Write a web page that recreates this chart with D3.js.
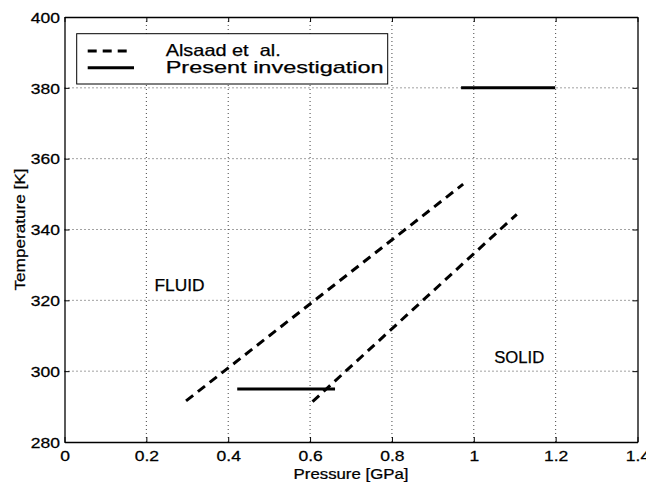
<!DOCTYPE html>
<html>
<head>
<meta charset="utf-8">
<script src="https://cdn.jsdelivr.net/npm/d3@7"></script>
<style>
  html, body { margin: 0; padding: 0; background: #fff; }
  svg { display: block; }
  text { font-family: "Liberation Sans", Arial, Helvetica, sans-serif; fill: #000; stroke: #000; stroke-width: 0.25px; }
</style>
</head>
<body>
<svg id="chart" width="646" height="483"></svg>
<script>
// ---- data ----
const xTicks = [0, 0.2, 0.4, 0.6, 0.8, 1.0, 1.2, 1.4];
const xTickLabels = ["0", "0.2", "0.4", "0.6", "0.8", "1", "1.2", "1.4"];
const yTicks = [280, 300, 320, 340, 360, 380, 400];
const yTickLabels = ["280", "300", "320", "340", "360", "380", "400"];

// Alsaad et al. (dashed) – two boundary lines
const alsaadUpperP = [0.297, 0.974];
const alsaadUpperT = [291.6, 352.8];
const alsaadLowerP = [0.606, 1.105];
const alsaadLowerT = [291.4, 344.3];

// Present investigation (solid) – two horizontal segments
const presentLowP = [0.422, 0.661];
const presentLowT = [295, 295];
const presentHighP = [0.969, 1.199];
const presentHighT = [380, 380];

const legendLabels = ["Alsaad et  al.", "Present investigation"];
const regionLabels = ["FLUID", "SOLID"];
const regionP = [0.22, 1.05];
const regionT = [322.5, 302.2];

// ---- layout ----
const svg = d3.select("#chart");
const L = 64.5, R = 637.5, T = 17, B = 442;
const x = d3.scaleLinear().domain([0, 1.4]).range([L, R]);
const y = d3.scaleLinear().domain([280, 400]).range([B, T]);

// gridlines
const grid = svg.append("g");
grid.selectAll("line.gx").data(xTicks.slice(1, -1)).join("line")
  .attr("x1", d => x(d)).attr("x2", d => x(d)).attr("y1", T).attr("y2", B)
  .attr("stroke", "#444").attr("stroke-width", 1).attr("stroke-dasharray", "1,3");
grid.selectAll("line.gy").data(yTicks.slice(1, -1)).join("line")
  .attr("x1", L).attr("x2", R).attr("y1", d => y(d)).attr("y2", d => y(d))
  .attr("stroke", "#444").attr("stroke-width", 1).attr("stroke-dasharray", "1,3");

// axes with inward ticks
const xAxis = svg.append("g").attr("transform", `translate(0,${B})`)
  .call(d3.axisBottom(x).tickValues(xTicks).tickSizeInner(-5).tickSizeOuter(0)
    .tickFormat((d, i) => xTickLabels[i]));
const xTop = svg.append("g").attr("transform", `translate(0,${T})`)
  .call(d3.axisTop(x).tickValues(xTicks).tickSizeInner(-5).tickSizeOuter(0).tickFormat(""));
const yAxis = svg.append("g").attr("transform", `translate(${L},0)`)
  .call(d3.axisLeft(y).tickValues(yTicks).tickSizeInner(-5).tickSizeOuter(0)
    .tickFormat((d, i) => yTickLabels[i]));
const yRight = svg.append("g").attr("transform", `translate(${R},0)`)
  .call(d3.axisRight(y).tickValues(yTicks).tickSizeInner(-5).tickSizeOuter(0).tickFormat(""));

[xAxis, xTop, yAxis, yRight].forEach(g => {
  g.select(".domain").attr("stroke", "#000").attr("stroke-width", 1.3);
  g.selectAll(".tick line").attr("stroke", "#000").attr("stroke-width", 1);
});
xAxis.selectAll(".tick text")
  .attr("y", 0).attr("dy", null).attr("font-size", 14)
  .attr("transform", "translate(0,18.7) scale(1.25,1)");
yAxis.selectAll(".tick text")
  .attr("x", 0).attr("dy", null).attr("font-size", 14)
  .attr("transform", "translate(-4.5,5.3) scale(1.25,1)");

// axis titles
svg.append("text").attr("font-size", 14).attr("text-anchor", "middle")
  .attr("transform", `translate(${(L + R) / 2},479) scale(1.2,1)`)
  .text("Pressure [GPa]");
svg.append("text").attr("font-size", 15).attr("text-anchor", "middle")
  .attr("textLength", 122).attr("lengthAdjust", "spacingAndGlyphs")
  .attr("transform", `translate(25,${(T + B) / 2}) rotate(-90)`)
  .text("Temperature [K]");

// data lines
const line = d3.line().x(d => x(d[0])).y(d => y(d[1]));
const dashed = [d3.zip(alsaadUpperP, alsaadUpperT), d3.zip(alsaadLowerP, alsaadLowerT)];
const solid = [d3.zip(presentLowP, presentLowT), d3.zip(presentHighP, presentHighT)];
svg.append("g").selectAll("path").data(dashed).join("path")
  .attr("d", line).attr("fill", "none").attr("stroke", "#000")
  .attr("stroke-width", 3).attr("stroke-dasharray", "9,6");
svg.append("g").selectAll("path").data(solid).join("path")
  .attr("d", line).attr("fill", "none").attr("stroke", "#000")
  .attr("stroke-width", 3);

// region labels
svg.append("g").selectAll("text").data(regionLabels).join("text")
  .attr("x", (d, i) => x(regionP[i])).attr("y", (d, i) => y(regionT[i]))
  .attr("font-size", 16).attr("textLength", 50).attr("lengthAdjust", "spacingAndGlyphs")
  .text(d => d);

// legend
const lg = svg.append("g");
lg.append("rect").attr("x", 76.7).attr("y", 33.7).attr("width", 311).attr("height", 50.3)
  .attr("fill", "#fff").attr("stroke", "#000").attr("stroke-width", 1);
lg.append("line").attr("x1", 87.7).attr("x2", 127.7).attr("y1", 51).attr("y2", 51)
  .attr("stroke", "#000").attr("stroke-width", 3).attr("stroke-dasharray", "9,6");
lg.append("line").attr("x1", 87.7).attr("x2", 134).attr("y1", 67.7).attr("y2", 67.7)
  .attr("stroke", "#000").attr("stroke-width", 3);
const legendWidths = [115, 218];
lg.selectAll("text").data(legendLabels).join("text")
  .attr("x", 165.7).attr("y", (d, i) => 56 + i * 17)
  .attr("font-size", 16.5).attr("textLength", (d, i) => legendWidths[i])
  .attr("lengthAdjust", "spacingAndGlyphs")
  .attr("xml:space", "preserve")
  .style("white-space", "pre")
  .text(d => d);
</script>
</body>
</html>
